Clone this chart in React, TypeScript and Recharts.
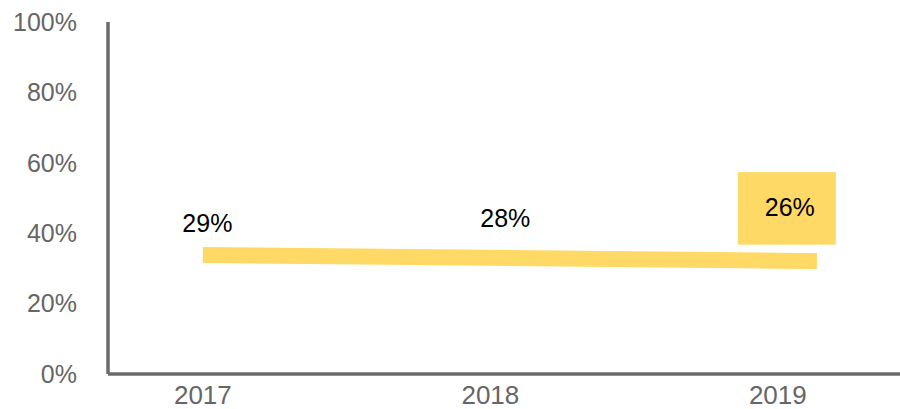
import React from "react";
import { LineChart, Line, XAxis, YAxis, LabelList } from "recharts";

// Category positions (years) and tick labels
const years = [2017, 2018, 2019, 2019.136];
const xTicks = [2017, 2018, 2019];
const yTicks = [0, 20, 40, 60, 80, 100];
// Drawn line position (percent)
const lineValues = [33.8, 33.0, 32.2, 32.1];
// Data labels printed on the chart
const labelValues: (number | null)[] = [29, 28, 26, null];

const data = years.map((y, i) => ({ year: y, value: lineValues[i], label: labelValues[i] }));

const YELLOW = "#FFD966";
const AXIS = "#6B6B6B";
const TEXT_GRAY = "#666666";
const FONT = "'Liberation Sans', Arial, sans-serif";

// label placement offsets relative to each point (style only)
const labelOffsets = [
  { dx: 4.5, dy: -32, box: false },
  { dx: 15, dy: -40, box: false },
  { dx: 12, dy: -53.5, box: true },
];

const renderLabel = (props: any) => {
  const { x, y, value, index } = props;
  if (value == null || index >= labelOffsets.length) return null;
  const o = labelOffsets[index];
  const cx = x + o.dx;
  const cy = y + o.dy;
  return (
    <g key={`lbl-${index}`}>
      {o.box && (
        <rect x={cx - 52} y={cy - 35} width={98} height={72.5} fill={YELLOW} />
      )}
      <text
        x={cx}
        y={cy + 9}
        textAnchor="middle"
        fontSize={25}
        fontFamily={FONT}
        fill="#000000"
      >
        {`${value}%`}
      </text>
    </g>
  );
};

export default function App() {
  return (
    <div style={{ position: "absolute", left: 0, top: 0, width: 900, height: 409, background: "#fff" }}>
      <LineChart
        width={900}
        height={409}
        data={data}
        margin={{ top: 22, right: 0, bottom: 0, left: 8 }}
      >
        <XAxis
          dataKey="year"
          type="number"
          domain={[2016.67, 2019.425]}
          ticks={xTicks}
          allowDataOverflow
          height={35}
          tickLine={false}
          axisLine={{ stroke: AXIS, strokeWidth: 3.5 }}
          tick={{ fill: TEXT_GRAY, fontSize: 26, fontFamily: FONT }}
          tickMargin={6}
        />
        <YAxis
          type="number"
          domain={[0, 100]}
          ticks={yTicks}
          width={100}
          tickLine={false}
          axisLine={{ stroke: AXIS, strokeWidth: 3.5 }}
          tickFormatter={(v: number) => `${v}%`}
          tick={{ fill: TEXT_GRAY, fontSize: 25, fontFamily: FONT }}
          tickMargin={25}
          interval={0}
        />
        <Line
          type="linear"
          dataKey="value"
          stroke={YELLOW}
          strokeWidth={16}
          strokeLinecap="butt"
          strokeLinejoin="round"
          dot={false}
          activeDot={false}
          isAnimationActive={false}
        >
          <LabelList dataKey="label" content={renderLabel} />
        </Line>
      </LineChart>
    </div>
  );
}
